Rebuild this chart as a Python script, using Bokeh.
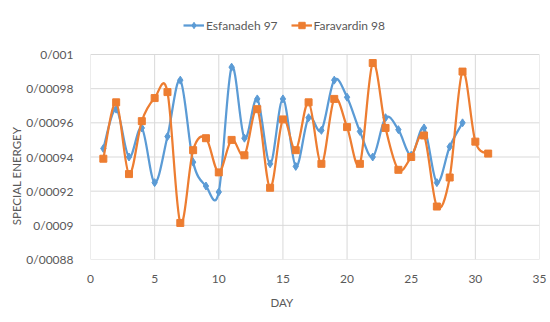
from bokeh.plotting import figure
from bokeh.models import (Range1d, FixedTicker, CustomJSTickFormatter, Legend, LegendItem,
                          ColumnDataSource)
from bokeh.embed import file_html
from bokeh.resources import INLINE

# ---- data ----
days_esfanadeh = list(range(1, 30))
esfanadeh_97 = [0.000945, 0.000968, 0.000940, 0.000957, 0.000925, 0.000952, 0.000985,
                0.000937, 0.000923, 0.0009195, 0.0009926, 0.000951, 0.000974, 0.000936,
                0.000974, 0.0009345, 0.000963, 0.0009556, 0.000985, 0.000975, 0.000955,
                0.000940, 0.000963, 0.000956, 0.000941, 0.000957, 0.000925, 0.000946,
                0.000960]
days_faravardin = list(range(1, 32))
faravardin_98 = [0.000939, 0.000972, 0.000930, 0.000961, 0.0009745, 0.000978, 0.0009014,
                 0.000944, 0.000951, 0.000931, 0.000950, 0.000941, 0.000968, 0.000922,
                 0.000962, 0.000944, 0.000972, 0.000936, 0.000974, 0.0009575, 0.000936,
                 0.000995, 0.000957, 0.0009325, 0.000940, 0.0009526, 0.000911, 0.000928,
                 0.000990, 0.000949, 0.000942]
x_ticks = [0, 5, 10, 15, 20, 25, 30, 35]
y_ticks = [0.00088, 0.0009, 0.00092, 0.00094, 0.00096, 0.00098, 0.001]
series_names = ["Esfanadeh 97", "Faravardin 98"]

BLUE = "#5B9BD5"
ORANGE = "#ED7D31"
GREY = "#595959"
GRID = "#D9D9D9"
FONT = "Lato"

# plot area: value axis spans 205 px; 54 px of headroom above it hold the legend
PLOT_PX, HEAD_PX = 205, 54
y_end = y_ticks[-1] + (y_ticks[-1] - y_ticks[0]) * HEAD_PX / PLOT_PX


def smooth_source(xs, ys):
    """Bezier segments (Catmull-Rom control points) through the data points."""
    n = len(xs)
    d = dict(x0=[], y0=[], x1=[], y1=[], cx0=[], cy0=[], cx1=[], cy1=[])
    for i in range(n - 1):
        ip = max(i - 1, 0)
        inn = min(i + 2, n - 1)
        d["x0"].append(xs[i]); d["y0"].append(ys[i])
        d["x1"].append(xs[i + 1]); d["y1"].append(ys[i + 1])
        d["cx0"].append(xs[i] + (xs[i + 1] - xs[ip]) / 6)
        d["cy0"].append(ys[i] + (ys[i + 1] - ys[ip]) / 6)
        d["cx1"].append(xs[i + 1] - (xs[inn] - xs[i]) / 6)
        d["cy1"].append(ys[i + 1] - (ys[inn] - ys[i]) / 6)
    return ColumnDataSource(d)


p = figure(width=550, height=322, output_backend="svg", toolbar_location=None,
           x_range=Range1d(x_ticks[0], x_ticks[-1]), y_range=Range1d(y_ticks[0], y_end),
           min_border_left=90, min_border_right=11, min_border_top=0, min_border_bottom=63)
p.background_fill_color = "white"
p.border_fill_color = "white"
p.outline_line_color = None
p.xgrid.visible = False
p.ygrid.visible = False

p.xaxis.ticker = FixedTicker(ticks=x_ticks)
p.yaxis.ticker = FixedTicker(ticks=y_ticks)
p.yaxis.formatter = CustomJSTickFormatter(
    code="return tick.toFixed(5).replace(/0+$/, '').replace('.', '/');")

for ax in (p.xaxis[0], p.yaxis[0]):
    ax.axis_line_color = None
    ax.major_tick_line_color = None
    ax.minor_tick_line_color = None
    ax.major_label_text_font = FONT
    ax.major_label_text_font_size = "12px"
    ax.major_label_text_color = GREY
    ax.axis_label_text_font = FONT
    ax.axis_label_text_font_size = "11.5px"
    ax.axis_label_text_font_style = "normal"
    ax.axis_label_text_color = GREY

# trailing spaces shift the visible titles to where the reference has them
p.xaxis.axis_label = "DAY" + "\u2003" * 7 + "\u2002"
p.xaxis.major_label_standoff = 9
p.xaxis.axis_label_standoff = 10
p.yaxis.axis_label = "SPECIAL ENERGEY" + "\u2003" * 10 + "\u2002"
p.yaxis.major_label_standoff = 11
p.yaxis.axis_label_standoff = 0

# gridlines of the value area, from the tick lists
n_y, n_x = len(y_ticks), len(x_ticks)
p.segment(x0=[x_ticks[0]] * n_y, y0=y_ticks, x1=[x_ticks[-1]] * n_y, y1=y_ticks,
          line_color=GRID, line_width=1)
p.segment(x0=x_ticks, y0=[y_ticks[0]] * n_x, x1=x_ticks, y1=[y_ticks[-1]] * n_x,
          line_color=GRID, line_width=1)

src_b = smooth_source(days_esfanadeh, esfanadeh_97)
src_o = smooth_source(days_faravardin, faravardin_98)

lb = p.bezier(x0="x0", y0="y0", x1="x1", y1="y1", cx0="cx0", cy0="cy0", cx1="cx1", cy1="cy1",
              source=src_b, line_color=BLUE, line_width=2.25)
mb = p.scatter(days_esfanadeh, esfanadeh_97, marker="diamond", size=8,
               fill_color=BLUE, line_color=BLUE)
lo = p.bezier(x0="x0", y0="y0", x1="x1", y1="y1", cx0="cx0", cy0="cy0", cx1="cx1", cy1="cy1",
              source=src_o, line_color=ORANGE, line_width=2.25)
mo = p.scatter(days_faravardin, faravardin_98, marker="square", size=7,
               fill_color=ORANGE, line_color=ORANGE)

legend = Legend(items=[LegendItem(label=series_names[0], renderers=[lb, mb]),
                       LegendItem(label=series_names[1], renderers=[lo, mo])],
                location=(93, 226), orientation="horizontal",
                padding=0, margin=0, spacing=13, label_standoff=2,
                glyph_width=21, glyph_height=16, label_height=16,
                label_text_font=FONT, label_text_font_size="12px", label_text_color=GREY,
                border_line_color=None, background_fill_alpha=0)
p.add_layout(legend, "center")

open("out.html", "w").write(file_html(p, INLINE))
